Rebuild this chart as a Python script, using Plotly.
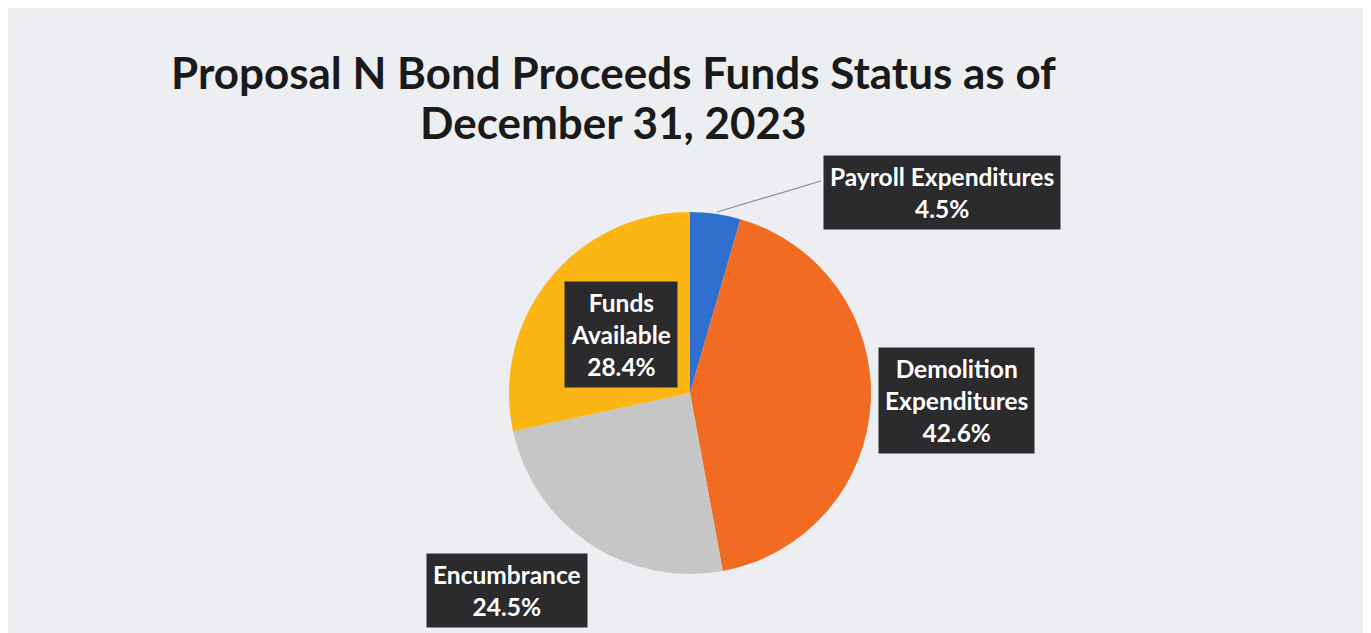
import plotly.graph_objects as go

labels = ["Payroll Expenditures", "Demolition Expenditures", "Encumbrance", "Funds Available"]
values = [4.5, 42.6, 24.5, 28.4]
colors = ["#2f6fd0", "#f26b22", "#c6c6c6", "#fbb614"]
box_text = ["Payroll Expenditures<br>4.5%", "Demolition<br>Expenditures<br>42.6%",
            "Encumbrance<br>24.5%", "Funds<br>Available<br>28.4%"]
title_lines = ["Proposal N Bond Proceeds Funds Status as of", "December 31, 2023"]

W, H = 1371, 633
OFF = 8  # page body margin offset


def px(x):
    return (x - OFF) / W


def py(y):
    return (H - (y - OFF)) / H


# label box centres (screen pixel positions)
box_pos = [(942, 192), (957, 400), (507, 590), (621, 334)]
cx, cy, r = 690, 393, 181

fig = go.Figure(go.Pie(
    labels=labels, values=values, sort=False, direction="clockwise", rotation=0,
    marker=dict(colors=colors, line=dict(width=0)),
    textinfo="none", hoverinfo="label+percent", showlegend=False,
    domain=dict(x=[px(cx - r), px(cx + r)], y=[py(cy + r), py(cy - r)]),
))

# leader line for the small slice
fig.add_shape(type="line", xref="paper", yref="paper",
              x0=px(717), y0=py(212), x1=px(821), y1=py(181),
              line=dict(color="#8a8a8a", width=1.2))

for t, (bx, by) in zip(box_text, box_pos):
    fig.add_annotation(text=t, x=px(bx), y=py(by), xref="paper", yref="paper",
                       showarrow=False, xanchor="center", yanchor="middle",
                       font=dict(family="Lato", size=24.5, color="white", weight="bold"),
                       bgcolor="#2b2b2d", borderpad=6, align="center")

for t, ty in zip(title_lines, [72, 122]):
    fig.add_annotation(text=t, x=px(613), y=py(ty), xref="paper", yref="paper",
                       showarrow=False, xanchor="center", yanchor="middle",
                       font=dict(family="Lato", size=44, color="#1a1a1a", weight="bold"))

fig.update_layout(
    width=W, height=H,
    margin=dict(l=0, r=0, t=0, b=0),
    paper_bgcolor="#eceef1", plot_bgcolor="#eceef1",
)

fig.write_html("out.html")
